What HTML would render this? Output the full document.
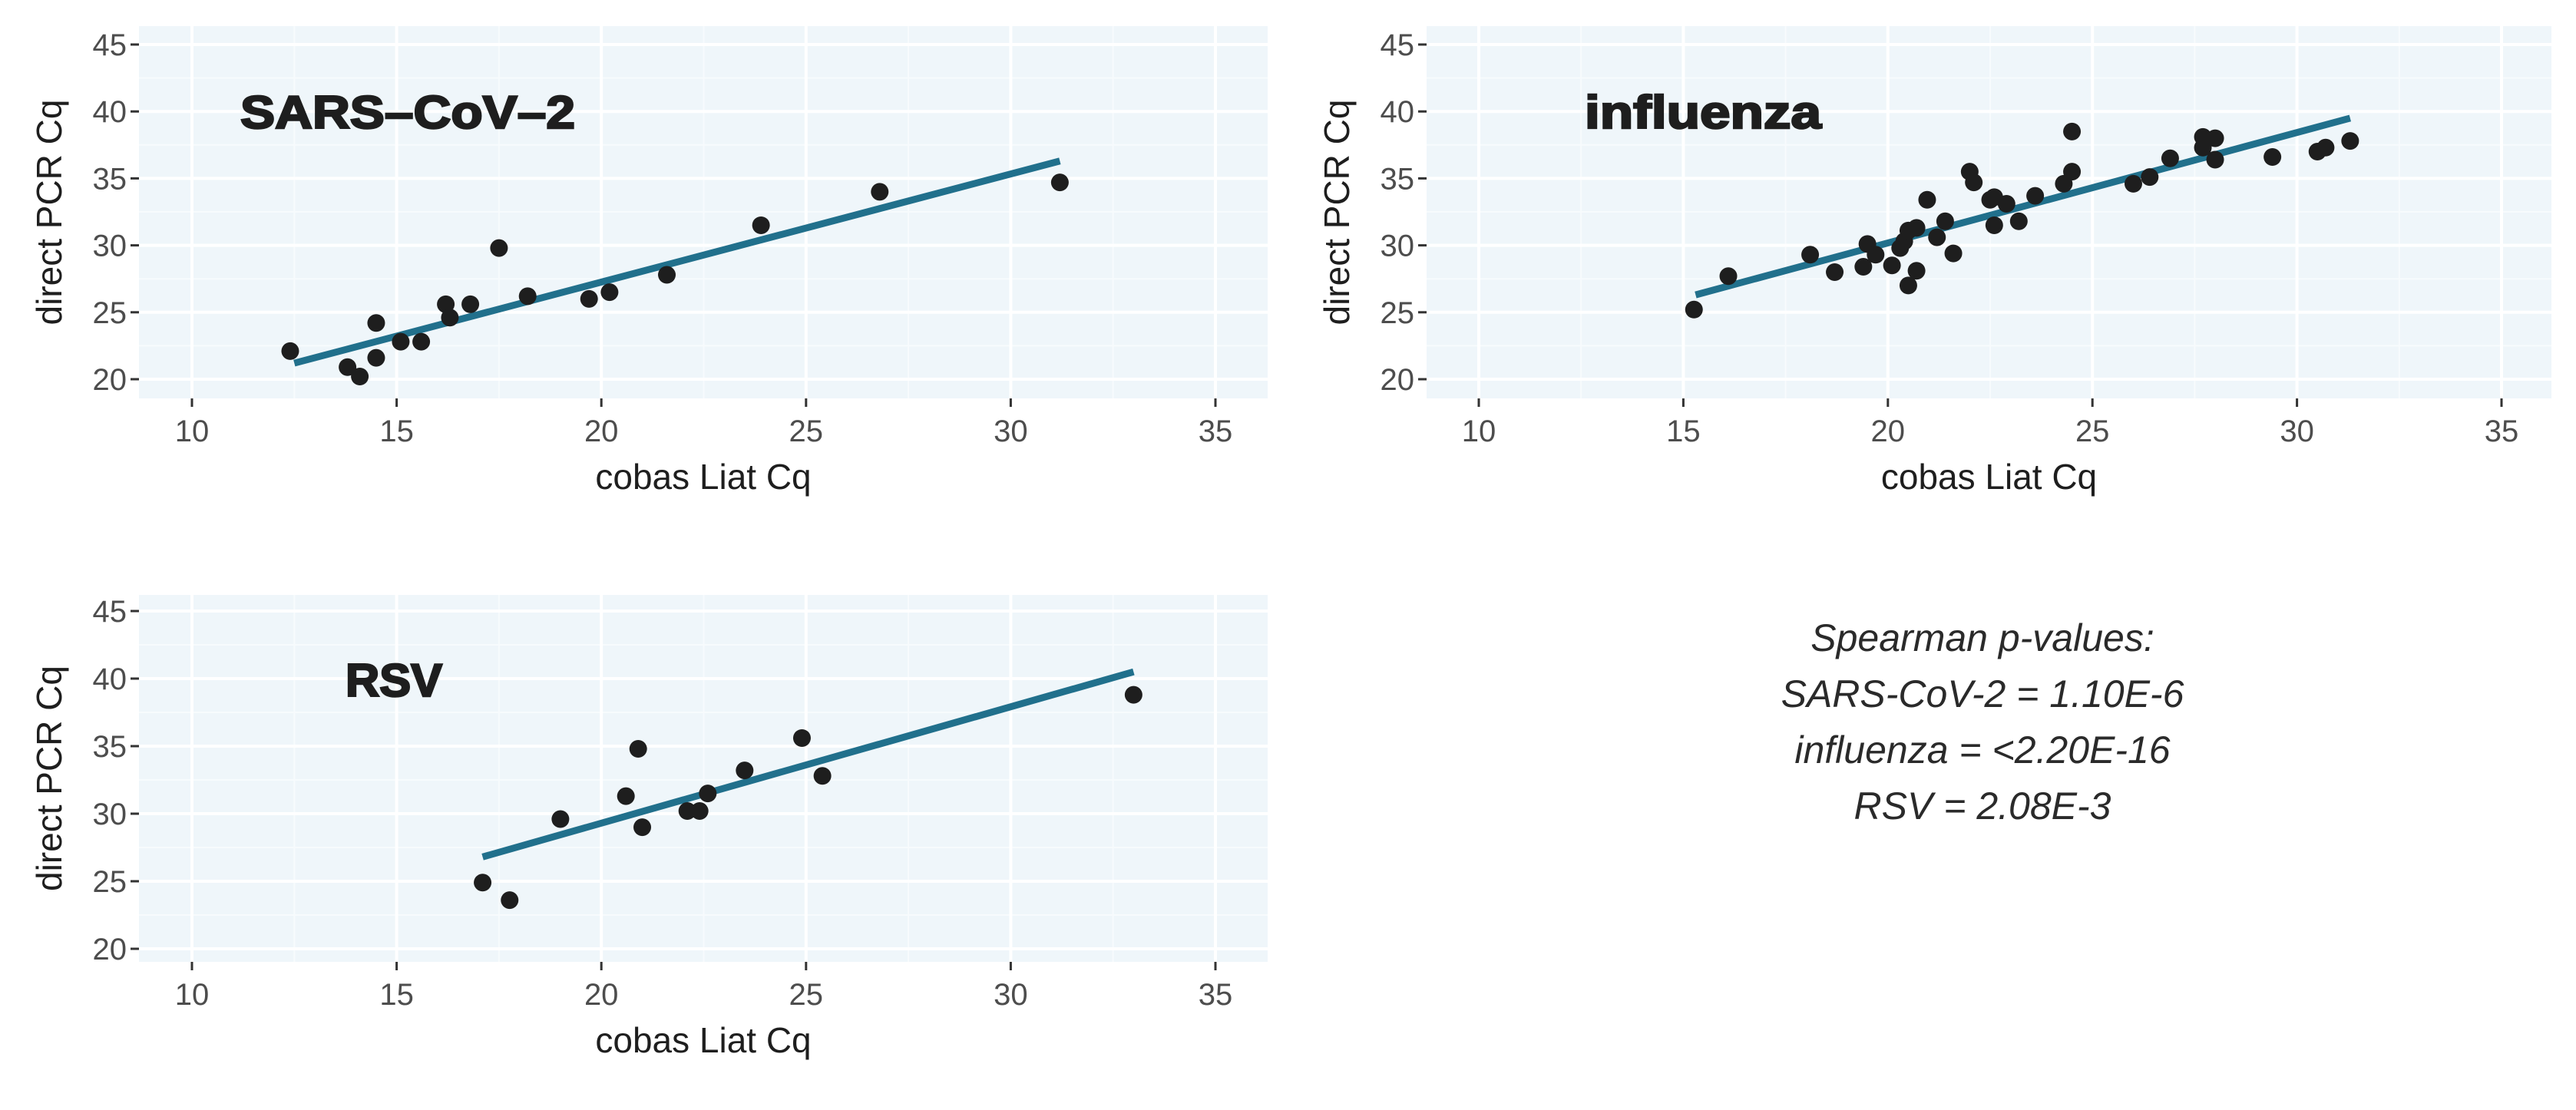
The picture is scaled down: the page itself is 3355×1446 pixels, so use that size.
<!DOCTYPE html>
<html><head><meta charset="utf-8">
<style>
html,body{margin:0;padding:0;background:#fff;}
svg{display:block;}
text{font-family:"Liberation Sans",sans-serif;}
</style></head>
<body>
<svg id="fig" width="3355" height="1446" viewBox="0 0 3355 1446" xmlns="http://www.w3.org/2000/svg">
<rect x="0" y="0" width="3355" height="1446" fill="#fff"/>
<g id="annot" font-style="italic" font-size="50" fill="#2a2a2a" text-anchor="middle">
<text x="2582" y="848">Spearman p-values:</text>
<text x="2582" y="921">SARS-CoV-2 = 1.10E-6</text>
<text x="2582" y="994">influenza = &lt;2.20E-16</text>
<text x="2582" y="1067">RSV = 2.08E-3</text>
</g>
</svg>
<script>
const xTicks = [10, 15, 20, 25, 30, 35];
const yTicks = [20, 25, 30, 35, 40, 45];

const sarsX = [12.4,13.8,14.1,14.5,14.5,15.1,15.6,16.2,16.3,16.8,17.5,18.2,19.7,20.2,21.6,23.9,26.8,31.2];
const sarsY = [22.1,20.9,20.2,24.2,21.6,22.8,22.8,25.6,24.6,25.6,29.8,26.2,26.0,26.5,27.8,31.5,34.0,34.7];
const sarsFitX = [12.5, 31.2];
const sarsFitY = [21.2, 36.3];

const fluX = [15.26,16.1,18.1,18.7,19.4,19.5,19.7,20.1,20.3,20.4,20.5,20.5,20.7,20.7,20.96,21.2,21.4,21.6,22.0,22.1,22.5,22.6,22.6,22.9,23.2,23.6,24.3,24.5,24.5,26.0,26.4,26.9,27.7,27.7,28.0,28.0,29.4,30.5,30.7,31.3];
const fluY = [25.2,27.7,29.3,28.0,28.4,30.1,29.3,28.5,29.8,30.3,31.1,27.0,28.1,31.3,33.4,30.6,31.8,29.4,35.5,34.7,33.4,33.6,31.5,33.1,31.8,33.7,34.6,35.5,38.5,34.6,35.1,36.5,37.3,38.1,36.4,38.0,36.6,37.0,37.3,37.8];
const fluFitX = [15.3, 31.3];
const fluFitY = [26.3, 39.5];

const rsvX = [17.1,17.76,19.0,20.6,20.9,21.0,22.1,22.4,22.6,23.5,24.9,25.4,33.0];
const rsvY = [24.9,23.6,29.6,31.3,34.8,29.0,30.2,30.2,31.5,33.2,35.6,32.8,38.8];
const rsvFitX = [17.1, 33.0];
const rsvFitY = [26.8, 40.5];

const NS = "http://www.w3.org/2000/svg";
const svg = document.getElementById('fig');
function mk(tag, attrs, parent){
  const e = document.createElementNS(NS, tag);
  for (const k in attrs) e.setAttribute(k, attrs[k]);
  (parent||svg).appendChild(e);
  return e;
}

function panel(name, title, box, xs, ys, fx, fy){
  const sx = v => box.x10 + (v-10)*(box.x35-box.x10)/25;
  const sy = v => box.y20 + (v-20)*(box.y45-box.y20)/25;
  const g = mk('g', {});
  
  
  const bg = mk('rect', {x:box.l, y:box.t, width:box.r-box.l, height:box.b-box.t, fill:'#eff6fa'}, g);
  
  
  for (let v=7.5; v<=37.5; v+=5){ const px=sx(v); if(px>box.l&&px<box.r){ const l=mk('line',{x1:px,x2:px,y1:box.t,y2:box.b,stroke:'#f7fbfd','stroke-width':2},g);
      } }
  for (let v=17.5; v<=47.5; v+=5){ const py=sy(v); if(py>box.t&&py<box.b){ const l=mk('line',{x1:box.l,x2:box.r,y1:py,y2:py,stroke:'#f7fbfd','stroke-width':2},g);
      } }
  xTicks.forEach(v=>{
    const px=sx(v);
    const l=mk('line',{x1:px,x2:px,y1:box.t,y2:box.b,stroke:'#ffffff','stroke-width':4},g);
     
    const tk=mk('line',{x1:px,x2:px,y1:box.b,y2:box.b+11,stroke:'#333','stroke-width':3},g);
     
    const t=mk('text',{x:px,y:box.b+56,'font-size':40,fill:'#4d4d4d','text-anchor':'middle'},g);
    t.textContent=v;
     
  });
  yTicks.forEach(v=>{
    const py=sy(v);
    const l=mk('line',{x1:box.l,x2:box.r,y1:py,y2:py,stroke:'#ffffff','stroke-width':4},g);
     
    const tk=mk('line',{x1:box.l-11,x2:box.l,y1:py,y2:py,stroke:'#333','stroke-width':3},g);
     
    const t=mk('text',{x:box.l-16,y:py+14,'font-size':40,fill:'#4d4d4d','text-anchor':'end'},g);
    t.textContent=v;
     
  });
  const fl=mk('line',{x1:sx(fx[0]),y1:sy(fy[0]),x2:sx(fx[1]),y2:sy(fy[1]),stroke:'#21708c','stroke-width':9},g);
  
  
  xs.forEach((v,i)=>{
    const c=mk('circle',{cx:sx(v),cy:sy(ys[i]),r:11.5,fill:'#1e1e1e'},g);
    
    
  });
  const tt=mk('text',{x:box.tx,y:box.ty,'font-size':60,'font-weight':'bold',fill:'#1e1e1e',stroke:'#1e1e1e','stroke-width':2.5,textLength:box.tw,lengthAdjust:'spacingAndGlyphs'},g);
  tt.textContent=title;
  
  
  const cx=(box.l+box.r)/2;
  const xt=mk('text',{x:cx,y:box.b+118,'font-size':46,fill:'#1e1e1e','text-anchor':'middle'},g);
  xt.textContent='cobas Liat Cq';
   
  const cy=(box.t+box.b)/2;
  const yt=mk('text',{x:box.yx,y:cy,'font-size':46,fill:'#1e1e1e','text-anchor':'middle',transform:`rotate(-90 ${box.yx} ${cy})`},g);
  yt.textContent='direct PCR Cq';
   
}

panel('sars-cov-2','SARS\u2013CoV\u20132',
  {l:181,r:1651,t:34,b:519,x10:250,x35:1583,y20:494,y45:58,tx:313,ty:167,tw:436,yx:80},
  sarsX,sarsY,sarsFitX,sarsFitY);
panel('influenza','influenza',
  {l:1858,r:3323,t:34,b:519,x10:1926,x35:3258,y20:494,y45:58,tx:2064,ty:167,tw:308,yx:1757},
  fluX,fluY,fluFitX,fluFitY);
panel('rsv','RSV',
  {l:181,r:1651,t:775,b:1253,x10:250,x35:1583,y20:1236,y45:796,tx:450,ty:907,tw:126,yx:80},
  rsvX,rsvY,rsvFitX,rsvFitY);
</script>
</body></html>
